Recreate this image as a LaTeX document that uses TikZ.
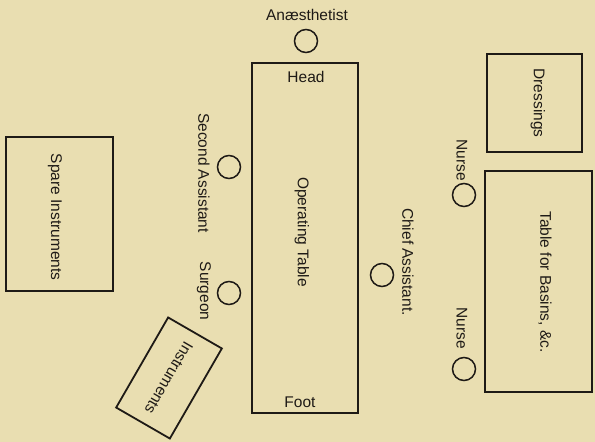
\documentclass[tikz,border=0pt]{standalone}
\usepackage{fontspec}
\setmainfont{Liberation Sans}
\definecolor{paper}{HTML}{E9DEB1}
\definecolor{ink}{HTML}{1E1A16}
\begin{document}
\begin{tikzpicture}[x=1pt,y=-1pt,
  lbl/.style={inner sep=0pt,text=ink,font=\fontsize{15.5}{18}\selectfont},
  vlbl/.style={lbl,rotate=-90},
  boxshape/.style={draw=ink,line width=1.8pt,inner sep=0pt,rectangle},
  person/.style={draw=ink,line width=1.5pt,circle,minimum size=23pt,inner sep=0pt}]
\fill[paper] (0,0) rectangle (595,442);
\useasboundingbox (0,0) rectangle (595,442);
% operating table
\node[boxshape,minimum width=106pt,minimum height=350pt] (optable) at (305,238) {};
\node[lbl] (head) at (306,77) {Head};
\node[lbl] (foot) at (300,402) {Foot};
\node[vlbl] (optext) at (302,232) {Operating Table};
% anaesthetist
\node[person] (anaes) at (306,41) {};
\node[lbl] (anaestext) at (307,15) {Anæsthetist};
% second assistant and surgeon
\node[person] (secass) at (229,167) {};
\node[vlbl] (secasstext) at (204,173) {Second Assistant};
\node[person] (surgeon) at (229,293) {};
\node[vlbl] (surgeontext) at (204,291) {Surgeon};
% chief assistant
\node[person] (chief) at (382,275) {};
\node[vlbl] (chieftext) at (408,262) {Chief Assistant.};
% spare instruments
\node[boxshape,minimum width=107pt,minimum height=154pt] (spare) at (59.5,214) {};
\node[vlbl] (sparetext) at (55,217) {Spare Instruments};
% instruments (tilted)
\node[boxshape,minimum width=104pt,minimum height=62pt,rotate=-120,
      font=\fontsize{15.5}{18}\selectfont,text=ink] (instr) at (169,378) {Instruments};
% dressings
\node[boxshape,minimum width=95pt,minimum height=98pt] (dress) at (534.5,103) {};
\node[vlbl] (dresstext) at (538,103) {Dressings};
% table for basins
\node[boxshape,minimum width=107pt,minimum height=221pt] (basins) at (538.5,281.5) {};
\node[vlbl] (basintext) at (545,282) {Table for Basins, \&c.};
% nurses
\node[person] (nurse1) at (464,195) {};
\node[vlbl] (nurse1text) at (462,160) {Nurse};
\node[person] (nurse2) at (464,369) {};
\node[vlbl] (nurse2text) at (462,328) {Nurse};
\end{tikzpicture}
\end{document}
